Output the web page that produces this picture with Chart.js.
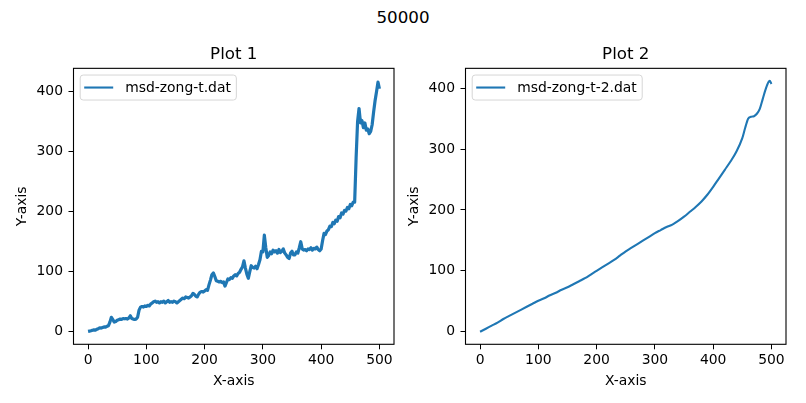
<!DOCTYPE html>
<html>
<head>
<meta charset="utf-8">
<script src="https://cdn.jsdelivr.net/npm/chart.js@4.4.1/dist/chart.umd.min.js"></script>
<style>
  html, body { margin: 0; padding: 0; background: #fff; }
  #wrap { position: relative; width: 806px; height: 403px; overflow: hidden; }
  #suptitle { position: absolute; left: 0; top: 7px; width: 806px; text-align: center;
    font: 16.7px 'DejaVu Sans', sans-serif; line-height: 20px; color: #000; }
  canvas { position: absolute; top: 0; }
  #c1 { left: 0; }
  #c2 { left: 392px; }
</style>
</head>
<body>
<div id="wrap">
  <div id="suptitle">50000</div>
  <canvas id="c1" width="403" height="403"></canvas>
  <canvas id="c2" width="403" height="403"></canvas>
</div>
<script>
// tick labels
const xTicks = [0, 100, 200, 300, 400, 500];
const yTicks = [0, 100, 200, 300, 400];

// msd-zong-t.dat
const xs1 = [
  0, 2.5, 5, 7.5, 10, 12.5, 15, 17.5, 20, 22.5,
  25, 27.5, 30, 32.5, 35, 37.5, 40, 42.5, 45, 47.5,
  50, 52.5, 55, 57.5, 60, 62.5, 65, 67.5, 70, 72.5,
  75, 77.5, 80, 82.5, 85, 87.5, 90, 92.5, 95, 97.5,
  100, 102.5, 105, 107.5, 110, 112.5, 115, 117.5, 120, 122.5,
  125, 127.5, 130, 132.5, 135, 137.5, 140, 142.5, 145, 147.5,
  150, 152.5, 155, 157.5, 160, 162.5, 165, 167.5, 170, 172.5,
  175, 177.5, 180, 182.5, 185, 187.5, 190, 192.5, 195, 197.5,
  200, 202.5, 205, 207.5, 210, 212.5, 215, 217.5, 220, 222.5,
  225, 227.5, 230, 232.5, 235, 237.5, 240, 242.5, 245, 247.5,
  250, 252.5, 255, 257.5, 260, 262.5, 265, 267.5, 270, 272.5,
  275, 277.5, 280, 282.5, 285, 287.5, 290, 292.5, 295, 297.5,
  300, 302.5, 305, 307.5, 310, 312.5, 315, 317.5, 320, 322.5,
  325, 327.5, 330, 332.5, 335, 337.5, 340, 342.5, 345, 347.5,
  350, 352.5, 355, 357.5, 360, 362.5, 365, 367.5, 370, 372.5,
  375, 377.5, 380, 382.5, 385, 387.5, 390, 392.5, 395, 397.5,
  400, 402.5, 405, 407.5, 410, 412.5, 415, 417.5, 420, 422.5,
  425, 427.5, 430, 432.5, 435, 437.5, 440, 442.5, 445, 447.5,
  450, 452.5, 455, 457.5, 460, 462.5, 465, 467.5, 470, 472.5,
  475, 477.5, 480, 482.5, 485, 487.5, 490, 492.5, 495, 497.5,
  500
];
const ys1 = [
  0.5, 1, 1.5, 2.5, 3, 2.5, 4, 5, 6.5, 6,
  7, 8, 7.5, 9, 10, 16, 24, 20, 16, 17,
  19, 20, 21, 20.5, 22, 21.5, 22, 21, 23, 26.5,
  22, 21, 20.5, 21, 24, 36, 41, 42, 41, 43,
  42, 44, 43, 46, 48, 50, 51, 49, 50, 48,
  50, 49, 51, 48, 50, 52, 49, 50, 49, 51,
  50, 48, 50, 52, 54, 56, 55, 58, 57, 56,
  58, 60, 64, 62, 59, 58, 63, 66, 67, 66,
  68, 70, 69, 78, 86, 95, 98, 92, 85, 84,
  83, 84, 82, 83, 76, 82, 88, 87, 90, 89,
  93, 95, 93, 97, 99, 104, 108, 118, 106, 96,
  89, 100, 110, 107, 106, 109, 105, 112, 120, 134,
  133, 161, 140, 124, 127, 133, 130, 136, 133, 135,
  131, 137, 132, 134, 138, 131, 128, 124, 122, 131,
  134, 128, 128, 133, 131, 140, 150, 138, 136, 137,
  135, 138, 137, 140, 136, 139, 138, 141, 137, 135,
  138, 152, 164, 162, 168, 170, 176, 175, 182, 180,
  186, 184, 192, 190, 198, 196, 202, 201, 207, 205,
  212, 210, 216, 216, 290, 350, 372, 348, 352, 340,
  348, 336, 338, 330, 334, 345, 366, 385, 400, 416,
  405
];

// msd-zong-t-2.dat
const xs2 = [0, 10, 20, 30, 40, 50, 60, 70, 80, 90, 100, 110, 120, 130, 140, 150, 160, 170, 180, 190,
  200, 210, 220, 230, 240, 250, 260, 270, 280, 290, 300, 310, 320, 330, 340, 350, 360, 370, 380, 390,
  400, 410, 420, 430, 440, 450, 455, 460, 465, 470, 475, 480, 485, 490, 495, 497, 500];
const ys2 = [0, 5, 10, 15, 21, 26, 31, 36, 41, 46, 51, 55, 60, 64, 69, 73, 78, 83, 88, 94,
  100, 106, 112, 118, 125, 132, 138, 144, 150, 156, 162, 167, 172, 176, 182, 189, 197, 205, 214, 225,
  238, 252, 266, 280, 296, 318, 335, 350, 353, 354, 358, 366, 382, 398, 410, 412, 407];

const BLUE = '#1f77b4';
Chart.defaults.font.family = "'DejaVu Sans', sans-serif";
Chart.defaults.font.size = 13.9;
Chart.defaults.color = '#000';

// frame round the axes + matplotlib style legend box
const frameLegend = {
  id: 'frameLegend',
  afterDraw(chart) {
    const ctx = chart.ctx;
    const a = chart.chartArea;
    ctx.save();
    ctx.strokeStyle = '#000';
    ctx.lineWidth = 1.1;
    ctx.strokeRect(a.left, a.top, a.right - a.left, a.bottom - a.top);

    const label = chart.data.datasets[0].label;
    ctx.font = "13.9px 'DejaVu Sans', sans-serif";
    const tw = ctx.measureText(label).width;
    const x = a.left + 6.7, y = a.top + 6.7;
    const w = 45 + tw + 5.5, h = 25;
    ctx.beginPath();
    ctx.roundRect(x, y, w, h, 3);
    ctx.fillStyle = 'rgba(255,255,255,0.8)';
    ctx.fill();
    ctx.strokeStyle = '#d6d6d6';
    ctx.lineWidth = 1;
    ctx.stroke();

    ctx.beginPath();
    ctx.moveTo(x + 4, y + 12.5);
    ctx.lineTo(x + 33, y + 12.5);
    ctx.strokeStyle = BLUE;
    ctx.lineWidth = 2.1;
    ctx.stroke();

    ctx.fillStyle = '#000';
    ctx.textBaseline = 'middle';
    ctx.fillText(label, x + 45, y + 13);
    ctx.restore();
  }
};

function makeChart(id, xs, ys, label, title, yMin, yMax, tension, lineW) {
  const points = xs.map((x, i) => ({ x: x, y: ys[i] }));
  return new Chart(document.getElementById(id), {
    type: 'line',
    data: {
      datasets: [{
        label: label,
        data: points,
        borderColor: BLUE,
        borderWidth: lineW,
        borderJoinStyle: 'round',
        pointRadius: 0,
        tension: tension,
        cubicInterpolationMode: tension ? 'monotone' : 'default',
        fill: false
      }]
    },
    options: {
      responsive: false,
      animation: false,
      layout: { padding: { left: 0, right: 9, top: 0, bottom: 0 } },
      plugins: {
        legend: { display: false },
        tooltip: { enabled: false },
        title: {
          display: true,
          text: title,
          fullSize: false,
          font: { size: 16.7, weight: 'normal' },
          padding: { top: 45, bottom: 3.3 }
        }
      },
      scales: {
        x: {
          type: 'linear',
          min: -25,
          max: 525,
          afterBuildTicks: s => { s.ticks = xTicks.map(v => ({ value: v })); },
          afterFit: s => { s.height = 58.7; },
          ticks: { padding: 3, maxRotation: 0 },
          grid: { drawOnChartArea: false, tickLength: 5, color: '#000', lineWidth: 1 },
          border: { display: false },
          title: { display: true, text: 'X-axis', padding: { top: 0, bottom: 13.7 } }
        },
        y: {
          type: 'linear',
          min: yMin,
          max: yMax,
          afterBuildTicks: s => { s.ticks = yTicks.map(v => ({ value: v })); },
          afterFit: s => { s.width = 73.5; },
          ticks: { padding: 5.5 },
          grid: { drawOnChartArea: false, tickLength: 5, color: '#000', lineWidth: 1 },
          border: { display: false },
          title: { display: true, text: 'Y-axis', padding: { top: 13.7, bottom: 0 } }
        }
      }
    },
    plugins: [frameLegend]
  });
}

makeChart('c1', xs1, ys1, 'msd-zong-t.dat', 'Plot 1', -21, 439, 0, 3.2);
makeChart('c2', xs2, ys2, 'msd-zong-t-2.dat', 'Plot 2', -20.6, 432.6, 0.4, 2.1);
</script>
</body>
</html>
